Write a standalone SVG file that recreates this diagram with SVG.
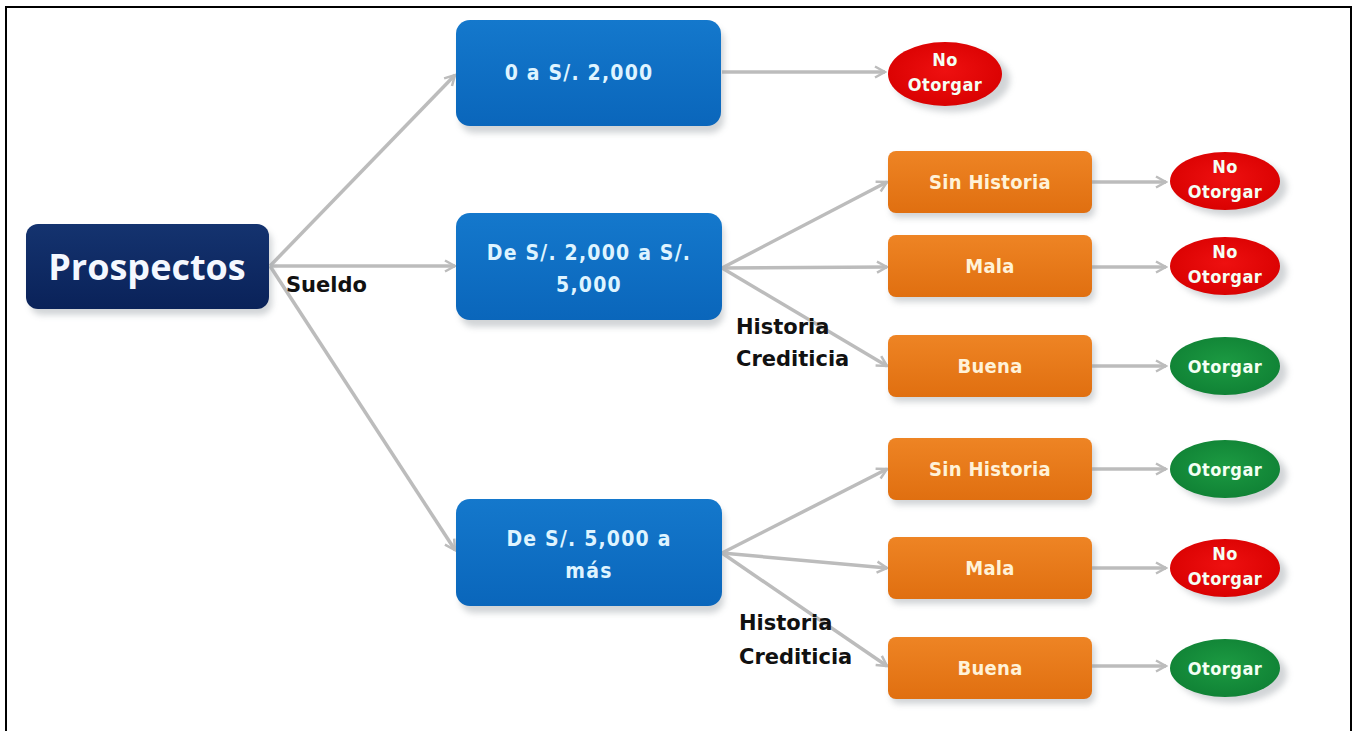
<svg xmlns="http://www.w3.org/2000/svg" width="1360" height="731" viewBox="0 0 1360 731">
  <defs>
    <style>
      .frame { fill: #ffffff; stroke: #000000; stroke-width: 2; }
      .edge { fill: none; stroke: #bcbcbc; stroke-width: 3.5; marker-end: url(#chev); }
      .root { fill: url(#gNavy); }
      .range { fill: url(#gBlue); }
      .hist { fill: url(#gOrange); }
      .no { fill: url(#gRed); }
      .yes { fill: url(#gGreen); }
      .shadow { fill: #9aa0a6; opacity: 0.45; filter: url(#soft); }
      .t { font-family: "DejaVu Sans Condensed", "DejaVu Sans", sans-serif; font-weight: bold; text-anchor: middle; }
      .tRoot { fill: #f4f8ff; font-size: 36px; font-family: "Open Sans", "DejaVu Sans", sans-serif; }
      .tRange { fill: #dff4ff; font-size: 21px; letter-spacing: 1.2px; }
      .tHist { fill: #fff2d8; font-size: 20px; letter-spacing: 0.3px; }
      .tEnd { fill: #f4fff4; font-size: 18px; letter-spacing: 0.5px; }
      .lbl { font-family: "DejaVu Sans", sans-serif; font-weight: bold; font-size: 21px; fill: #111111; }
    </style>
    <marker id="chev" viewBox="0 0 14 14" refX="12" refY="7" markerWidth="14" markerHeight="14" markerUnits="userSpaceOnUse" orient="auto">
      <path d="M2,1.5 L12,7 L2,12.5" fill="none" stroke="#bcbcbc" stroke-width="2.5" stroke-linejoin="miter"/>
    </marker>
    <filter id="soft" x="-20%" y="-40%" width="140%" height="180%">
      <feGaussianBlur stdDeviation="3"/>
    </filter>
    <linearGradient id="gNavy" x1="0" y1="0" x2="0" y2="1">
      <stop offset="0" stop-color="#14336f"/>
      <stop offset="1" stop-color="#0a2259"/>
    </linearGradient>
    <linearGradient id="gBlue" x1="0" y1="0" x2="0" y2="1">
      <stop offset="0" stop-color="#1478cc"/>
      <stop offset="1" stop-color="#0a66bb"/>
    </linearGradient>
    <linearGradient id="gOrange" x1="0" y1="0" x2="0" y2="1">
      <stop offset="0" stop-color="#ee8424"/>
      <stop offset="1" stop-color="#e06f10"/>
    </linearGradient>
    <radialGradient id="gRed" cx="0.5" cy="0.45" r="0.6">
      <stop offset="0" stop-color="#ee1010"/>
      <stop offset="1" stop-color="#d80000"/>
    </radialGradient>
    <radialGradient id="gGreen" cx="0.5" cy="0.45" r="0.6">
      <stop offset="0" stop-color="#1c9a42"/>
      <stop offset="1" stop-color="#0f8034"/>
    </radialGradient>
  </defs>

  <rect class="frame" x="6" y="7" width="1345" height="726"/>

  <!-- connectors -->
  <g id="connectors">
    <path class="edge" d="M270,266 L455,75"/>
    <path class="edge" d="M270,266 L455,266"/>
    <path class="edge" d="M270,266 L455,550"/>
    <path class="edge" d="M722,72 L885,72"/>
    <path class="edge" d="M722,268 L887,182"/>
    <path class="edge" d="M722,268 L887,267"/>
    <path class="edge" d="M722,268 L887,366"/>
    <path class="edge" d="M1092,182 L1166,182"/>
    <path class="edge" d="M1092,267 L1166,267"/>
    <path class="edge" d="M1092,366 L1166,366"/>
    <path class="edge" d="M722,553 L887,469"/>
    <path class="edge" d="M722,553 L887,568"/>
    <path class="edge" d="M722,553 L887,666"/>
    <path class="edge" d="M1092,469 L1166,469"/>
    <path class="edge" d="M1092,568 L1166,568"/>
    <path class="edge" d="M1092,666 L1166,666"/>
  </g>

  <!-- edge labels -->
  <g id="labels">
    <text class="lbl" x="286" y="292">Sueldo</text>
    <text class="lbl" x="736" y="334">Historia</text>
    <text class="lbl" x="736" y="366">Crediticia</text>
    <text class="lbl" x="739" y="630">Historia</text>
    <text class="lbl" x="739" y="664">Crediticia</text>
  </g>

  <g id="prospectos">
    <rect class="shadow" x="30" y="230" width="242" height="85" rx="12"/>
    <rect class="root" x="26" y="224" width="243" height="85" rx="12"/>
    <text class="t tRoot" x="147" y="280">Prospectos</text>
  </g>

  <g id="sueldo-bajo">
    <rect class="shadow" x="460" y="27" width="264" height="106" rx="14"/>
    <rect class="range" x="456" y="20" width="265" height="106" rx="14"/>
    <text class="t tRange" x="579" y="80">0 a S/. 2,000</text>
  </g>
  <g id="sueldo-medio">
    <rect class="shadow" x="460" y="220" width="264" height="107" rx="14"/>
    <rect class="range" x="456" y="213" width="266" height="107" rx="14"/>
    <text class="t tRange" x="589" y="260">De S/. 2,000 a S/.</text>
    <text class="t tRange" x="589" y="292">5,000</text>
  </g>
  <g id="sueldo-alto">
    <rect class="shadow" x="460" y="506" width="264" height="107" rx="14"/>
    <rect class="range" x="456" y="499" width="266" height="107" rx="14"/>
    <text class="t tRange" x="589" y="546">De S/. 5,000 a</text>
    <text class="t tRange" x="589" y="578">más</text>
  </g>

  <g id="medio-sin-historia">
    <rect class="shadow" x="891" y="156" width="204" height="62" rx="8"/>
    <rect class="hist" x="888" y="151" width="204" height="62" rx="8"/>
    <text class="t tHist" x="990" y="189">Sin Historia</text>
  </g>
  <g id="medio-mala">
    <rect class="shadow" x="891" y="240" width="204" height="62" rx="8"/>
    <rect class="hist" x="888" y="235" width="204" height="62" rx="8"/>
    <text class="t tHist" x="990" y="273">Mala</text>
  </g>
  <g id="medio-buena">
    <rect class="shadow" x="891" y="340" width="204" height="62" rx="8"/>
    <rect class="hist" x="888" y="335" width="204" height="62" rx="8"/>
    <text class="t tHist" x="990" y="373">Buena</text>
  </g>
  <g id="alto-sin-historia">
    <rect class="shadow" x="891" y="443" width="204" height="62" rx="8"/>
    <rect class="hist" x="888" y="438" width="204" height="62" rx="8"/>
    <text class="t tHist" x="990" y="476">Sin Historia</text>
  </g>
  <g id="alto-mala">
    <rect class="shadow" x="891" y="542" width="204" height="62" rx="8"/>
    <rect class="hist" x="888" y="537" width="204" height="62" rx="8"/>
    <text class="t tHist" x="990" y="575">Mala</text>
  </g>
  <g id="alto-buena">
    <rect class="shadow" x="891" y="642" width="204" height="62" rx="8"/>
    <rect class="hist" x="888" y="637" width="204" height="62" rx="8"/>
    <text class="t tHist" x="990" y="675">Buena</text>
  </g>

  <!-- outcomes -->
  <g id="bajo-resultado">
    <ellipse class="shadow" cx="952" cy="80" rx="58" ry="32"/>
    <ellipse class="no" cx="945" cy="74" rx="57" ry="32"/>
    <text class="t tEnd" x="945" y="66">No</text>
    <text class="t tEnd" x="945" y="91">Otorgar</text>
  </g>
  <g id="medio-sin-historia-resultado">
    <ellipse class="shadow" cx="1232" cy="187" rx="55" ry="29"/>
    <ellipse class="no" cx="1225" cy="181" rx="55" ry="29"/>
    <text class="t tEnd" x="1225" y="173">No</text>
    <text class="t tEnd" x="1225" y="198">Otorgar</text>
  </g>
  <g id="medio-mala-resultado">
    <ellipse class="shadow" cx="1232" cy="272" rx="55" ry="29"/>
    <ellipse class="no" cx="1225" cy="266" rx="55" ry="29"/>
    <text class="t tEnd" x="1225" y="258">No</text>
    <text class="t tEnd" x="1225" y="283">Otorgar</text>
  </g>
  <g id="medio-buena-resultado">
    <ellipse class="shadow" cx="1232" cy="372" rx="55" ry="29"/>
    <ellipse class="yes" cx="1225" cy="366" rx="55" ry="29"/>
    <text class="t tEnd" x="1225" y="373">Otorgar</text>
  </g>
  <g id="alto-sin-historia-resultado">
    <ellipse class="shadow" cx="1232" cy="475" rx="55" ry="29"/>
    <ellipse class="yes" cx="1225" cy="469" rx="55" ry="29"/>
    <text class="t tEnd" x="1225" y="476">Otorgar</text>
  </g>
  <g id="alto-mala-resultado">
    <ellipse class="shadow" cx="1232" cy="574" rx="55" ry="29"/>
    <ellipse class="no" cx="1225" cy="568" rx="55" ry="29"/>
    <text class="t tEnd" x="1225" y="560">No</text>
    <text class="t tEnd" x="1225" y="585">Otorgar</text>
  </g>
  <g id="alto-buena-resultado">
    <ellipse class="shadow" cx="1232" cy="674" rx="55" ry="29"/>
    <ellipse class="yes" cx="1225" cy="668" rx="55" ry="29"/>
    <text class="t tEnd" x="1225" y="675">Otorgar</text>
  </g>
</svg>
